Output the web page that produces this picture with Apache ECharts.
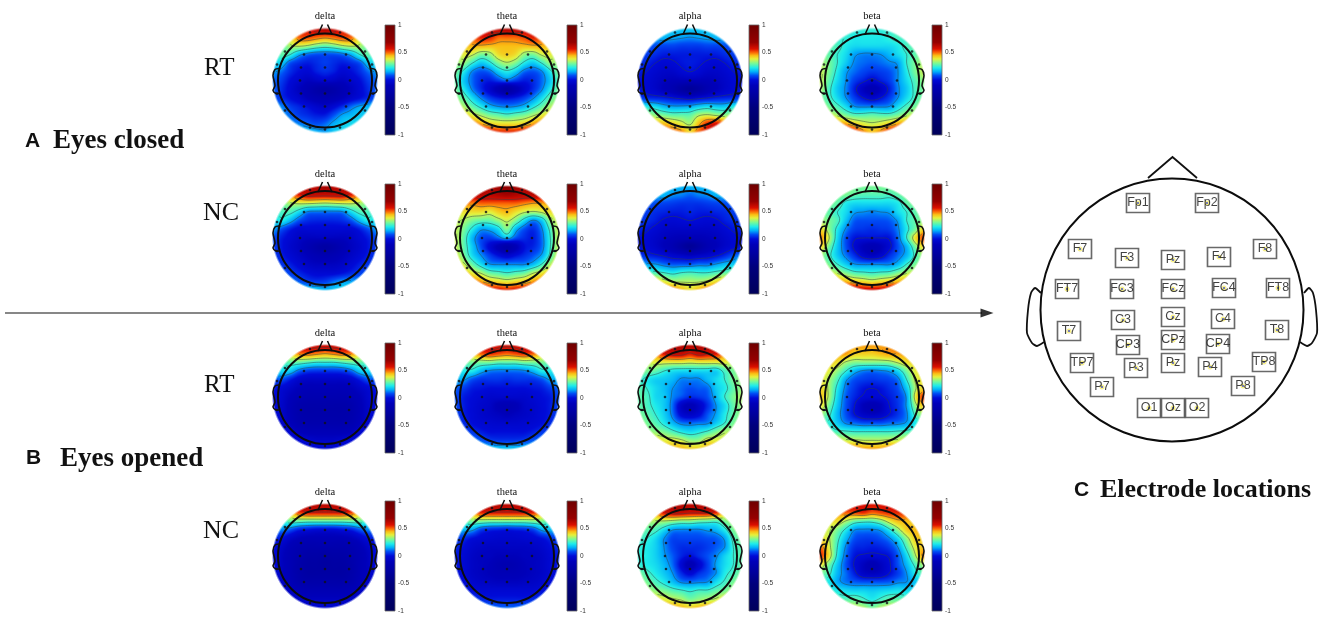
<!DOCTYPE html>
<html><head><meta charset="utf-8">
<style>html,body{margin:0;padding:0;background:#fff}#c{width:1325px;height:630px}</style>
<script src="https://cdn.jsdelivr.net/npm/echarts@6/dist/echarts.min.js"></script>
</head><body><div id="c"></div>
<script>
// Topographic values: 13 x 13 node grids (hundredths, top row first).
const closedRTdelta=[
[50,50,50,50,55,60,65,60,55,50,50,50,50],[30,35,40,50,52,50,48,50,52,50,40,35,30],[25,28,34,36,34,30,28,30,34,36,34,28,25],
[22,28,24,15,10,8,8,8,10,15,24,28,22],[20,18,8,4,2,4,6,4,2,4,8,18,20],[14,10,4,0,-2,2,4,2,-2,0,4,10,14],[10,6,0,-4,-8,-6,-4,-6,-8,-4,0,6,10],
[10,4,-2,-8,-14,-20,-24,-20,-14,-8,-2,4,10],[10,4,0,-4,-10,-14,-16,-14,-10,-4,0,4,10],[14,12,6,3,0,-4,-6,-2,4,10,14,16,16],
[16,14,10,6,4,2,2,8,14,16,18,18,18],[18,18,14,12,10,8,10,15,18,20,20,20,20],[20,20,20,20,18,16,14,18,20,20,20,20,20]];
const closedRTtheta=[
[55,55,55,55,60,62,65,62,60,55,55,55,55],[40,45,50,55,55,50,50,50,52,55,50,45,40],[38,42,45,45,44,44,44,44,44,45,45,42,38],
[34,38,36,30,32,40,42,40,32,30,36,38,34],[32,32,24,18,22,30,34,30,22,18,24,32,32],[30,22,12,8,10,18,22,18,10,8,12,22,30],[28,18,10,4,2,6,10,6,2,4,10,18,28],
[30,22,12,4,-4,-14,-24,-14,-4,4,12,22,30],[32,28,20,12,6,2,0,2,6,12,20,28,32],[36,34,28,22,16,13,12,13,16,22,28,34,36],
[42,42,38,34,30,28,26,28,30,34,38,42,42],[50,50,50,46,42,40,40,40,42,46,50,50,50],[60,60,60,60,58,55,55,55,58,60,60,60,60]];
const closedRTalpha=[
[18,18,18,18,18,18,18,18,18,18,18,18,18],[16,16,16,16,15,14,13,14,15,16,16,16,16],[12,10,8,7,7,6,6,6,7,7,8,10,12],
[8,6,4,2,2,2,2,2,2,2,4,6,8],[5,3,0,-2,-1,1,2,1,-1,-2,0,3,5],[2,0,-3,-5,-5,-2,0,-2,-5,-5,-3,0,2],[0,-2,-5,-8,-10,-10,-10,-10,-10,-8,-5,-2,0],
[1,-2,-5,-10,-15,-24,-30,-24,-15,-10,-5,-2,1],[8,4,3,2,0,-2,-4,-2,0,2,3,4,8],[22,22,20,16,14,14,15,18,20,18,18,22,22],
[34,34,32,30,28,28,28,34,36,34,32,34,34],[44,44,44,44,42,38,34,44,54,56,50,44,44],[50,50,50,50,50,48,42,50,55,55,50,50,50]];
const closedRTbeta=[
[24,24,24,24,24,24,24,24,24,24,24,24,24],[24,24,24,24,22,22,22,22,24,26,24,24,24],[27,27,26,22,20,20,20,20,20,22,26,27,27],
[30,28,24,20,14,12,12,13,16,20,24,28,30],[34,30,24,18,12,10,9,10,12,14,24,30,34],[36,30,22,14,10,7,5,6,8,13,22,30,36],[36,28,20,13,6,2,-2,2,6,13,20,27,32],
[34,26,18,12,2,-8,-14,-8,2,12,18,26,30],[30,26,20,13,6,0,-4,0,6,13,20,26,30],[34,30,26,20,13,12,12,12,13,20,26,30,34],
[42,38,34,30,27,27,28,27,27,30,34,38,42],[54,54,48,46,42,38,36,38,42,46,48,54,54],[56,58,58,58,55,48,44,48,55,58,58,58,56]];
const closedNCdelta=[
[60,60,60,60,60,62,65,62,60,60,60,60,60],[38,42,48,55,60,60,60,60,60,55,48,42,38],[26,30,34,36,36,35,34,35,36,36,34,30,26],
[22,26,26,20,12,11,11,11,12,20,26,26,22],[20,22,16,8,4,3,3,3,4,8,16,22,20],[14,8,2,-2,-2,-2,-2,-2,-2,-2,2,8,14],[8,2,-2,-6,-8,-8,-8,-8,-8,-6,-2,2,8],
[6,1,-4,-8,-14,-20,-24,-20,-14,-8,-4,1,6],[6,2,-2,-6,-10,-14,-16,-14,-10,-6,-2,2,6],[8,5,2,-2,-6,-8,-8,-8,-6,-2,2,5,8],
[12,10,6,3,0,-2,-2,-2,0,3,6,10,12],[18,16,13,9,6,5,6,10,13,14,14,16,18],[22,22,20,18,18,18,16,18,20,20,20,22,22]];
const closedNCtheta=[
[60,60,60,60,62,66,70,66,62,60,60,60,60],[55,58,60,62,62,64,66,64,62,62,60,58,55],[45,48,48,50,50,50,50,50,48,46,46,46,45],
[38,40,40,40,38,42,44,40,36,34,36,40,38],[36,34,30,28,28,32,36,30,20,12,18,32,36],[36,30,22,14,15,20,30,16,8,4,12,26,36],[36,28,16,8,6,10,16,8,4,2,10,24,36],
[36,28,18,8,-2,-12,-20,-12,0,3,10,24,36],[38,30,20,13,6,0,-4,0,4,8,14,26,38],[42,36,28,20,13,12,12,12,12,16,24,34,42],
[46,44,38,34,28,26,24,26,28,34,38,44,46],[58,56,50,46,42,40,38,40,42,46,50,56,58],[62,62,60,58,56,56,54,56,56,58,60,62,62]];
const closedNCalpha=[
[16,16,16,16,16,16,16,16,16,16,16,16,16],[16,16,16,16,13,12,10,12,13,16,16,16,16],[12,10,8,7,6,5,5,5,6,7,8,10,12],
[8,6,4,3,2,2,3,2,2,3,4,6,8],[6,4,2,-1,-2,-1,0,-1,-2,-1,2,4,6],[3,1,-2,-5,-6,-6,-6,-6,-6,-5,-2,1,3],[0,-2,-5,-8,-10,-12,-12,-12,-10,-8,-5,-2,0],
[1,-2,-5,-10,-15,-24,-32,-24,-15,-10,-5,-2,1],[6,3,1,-1,-4,-6,-8,-6,-4,-1,3,8,12],[18,14,13,10,8,8,8,10,10,13,16,18,20],
[28,27,26,24,22,24,25,24,24,26,28,30,30],[44,44,42,38,34,34,34,34,36,40,44,44,44],[52,52,54,52,50,44,40,44,50,54,54,52,52]];
const closedNCbeta=[
[30,30,30,30,30,30,30,30,30,30,30,30,30],[30,30,30,30,28,27,27,27,26,28,30,30,30],[30,30,28,22,20,20,20,20,20,22,28,30,30],
[30,28,24,20,14,13,12,13,14,20,24,28,30],[34,30,26,17,9,8,8,8,9,14,24,28,32],[42,32,22,12,6,5,4,5,6,12,22,30,42],[48,36,20,8,1,0,0,0,1,10,24,40,52],
[42,30,18,8,-2,-10,-14,-10,-2,8,16,30,42],[34,26,18,11,4,-4,-8,-4,4,10,16,26,34],[34,30,24,18,13,12,12,12,12,16,24,30,34],
[44,38,34,30,26,25,24,25,26,30,34,38,44],[52,50,46,44,42,40,38,40,42,44,46,50,52],[60,60,60,60,60,58,58,58,60,60,60,60,60]];
const openRTdelta=[
[60,60,60,60,60,60,60,60,60,60,60,60,60],[36,38,42,48,50,48,46,48,50,48,42,38,36],[24,26,28,28,26,24,24,24,26,28,28,26,24],
[16,20,18,10,6,5,5,5,6,10,18,20,16],[8,8,2,-4,-6,-6,-6,-6,-6,-4,2,8,8],[2,-2,-6,-10,-12,-12,-12,-12,-12,-10,-6,-2,2],[0,-4,-10,-14,-16,-16,-16,-16,-16,-14,-10,-4,0],
[0,-5,-12,-18,-20,-20,-20,-20,-20,-18,-12,-5,0],[0,-5,-12,-18,-20,-20,-20,-20,-20,-18,-12,-5,0],[0,-4,-10,-16,-18,-18,-18,-18,-18,-16,-10,-4,0],
[2,0,-4,-10,-12,-12,-12,-12,-12,-10,-4,0,2],[4,2,0,-2,-4,-6,-6,-6,-4,-2,0,2,4],[6,6,4,2,0,-2,-2,-2,0,2,4,6,6]];
const openRTtheta=[
[58,58,58,58,58,58,58,58,58,58,58,58,58],[38,40,44,50,54,52,50,52,54,50,44,40,38],[26,28,30,30,30,28,28,28,30,30,30,28,26],
[20,22,22,16,12,11,11,11,12,16,22,22,20],[16,14,8,5,5,5,4,5,5,5,8,14,16],[10,6,2,1,0,0,0,0,0,1,2,6,10],[8,2,0,-2,-4,-4,-4,-4,-4,-2,0,2,8],
[8,2,-1,-4,-6,-12,-14,-12,-6,-4,-1,2,8],[8,2,-1,-4,-6,-8,-10,-8,-6,-4,-1,2,8],[10,4,0,-2,-3,-4,-4,-4,-3,-2,0,4,10],
[14,9,5,2,0,0,0,0,0,2,5,9,14],[20,18,13,9,6,5,5,5,6,9,13,18,20],[24,24,22,20,18,18,18,18,18,20,22,24,24]];
const openRTalpha=[
[62,62,62,62,62,62,62,62,62,62,62,62,62],[40,42,48,56,60,60,56,60,58,56,48,42,40],[34,36,38,38,38,38,37,38,38,38,38,36,34],
[32,30,28,24,21,20,20,20,20,19,26,30,32],[26,22,19,18,16,12,12,12,16,20,24,30,32],[28,24,20,17,13,10,8,9,10,18,22,28,32],[28,26,20,18,12,8,4,5,8,16,24,30,34],
[28,26,22,18,10,-6,-12,-6,4,13,20,28,32],[30,28,24,19,11,-2,-6,-2,8,14,22,28,32],[32,30,27,22,16,11,10,11,12,18,24,30,32],
[34,33,32,30,26,22,20,22,25,30,34,34,34],[40,40,40,38,38,36,32,32,38,38,38,40,40],[44,44,44,44,44,44,42,42,44,44,44,44,44]];
const openRTbeta=[
[46,46,46,46,46,46,46,46,46,46,46,46,46],[46,46,46,46,42,42,42,44,46,46,46,46,46],[42,42,40,34,31,31,31,31,32,36,40,42,42],
[40,38,32,24,16,12,11,12,14,20,30,38,40],[40,34,26,14,8,6,5,6,7,11,24,36,40],[42,34,22,11,5,1,0,1,4,8,18,34,42],[44,34,20,9,3,-1,-2,-1,2,6,14,38,54],
[40,30,18,8,0,-10,-14,-10,0,5,14,32,44],[34,26,16,8,0,-6,-8,-6,0,5,12,26,34],[28,24,18,12,10,8,8,8,10,11,14,22,28],
[30,28,26,25,24,24,24,24,24,25,26,28,30],[42,40,38,36,36,35,35,35,36,36,38,40,42],[48,48,48,48,48,46,46,46,48,48,48,48,48]];
const openNCdelta=[
[62,62,62,62,62,62,62,62,62,62,62,62,62],[34,38,44,52,56,56,56,56,56,52,44,38,34],[20,24,28,28,27,27,27,27,27,28,28,24,20],
[10,12,8,2,0,-2,-2,-2,0,2,8,12,10],[4,0,-6,-10,-12,-12,-12,-12,-12,-10,-6,0,4],[0,-6,-12,-16,-18,-18,-18,-18,-18,-16,-12,-6,0],[0,-8,-14,-18,-22,-22,-24,-22,-22,-18,-14,-8,0],
[0,-8,-14,-20,-24,-24,-26,-24,-24,-20,-14,-8,0],[0,-8,-14,-20,-24,-24,-24,-24,-24,-20,-14,-8,0],[0,-6,-12,-18,-20,-20,-20,-20,-20,-18,-12,-6,0],
[1,-2,-8,-12,-14,-14,-14,-14,-14,-12,-8,-2,1],[2,1,-2,-6,-8,-8,-8,-8,-8,-6,-2,1,2],[4,4,2,0,-2,-2,-2,-2,-2,0,2,4,4]];
const openNCtheta=[
[62,62,62,62,62,62,62,62,62,62,62,62,62],[36,40,46,54,56,56,56,56,56,54,46,40,36],[22,26,30,30,29,29,29,29,29,30,30,26,22],
[14,16,14,6,3,2,1,2,3,6,14,16,14],[8,4,0,-2,-3,-4,-4,-4,-3,-2,0,4,8],[4,0,-4,-6,-7,-7,-7,-7,-7,-6,-4,0,4],[2,-2,-6,-8,-8,-10,-10,-10,-8,-8,-6,-2,2],
[2,-2,-6,-8,-10,-14,-16,-14,-10,-8,-6,-2,2],[2,-2,-6,-8,-10,-12,-12,-12,-10,-8,-6,-2,2],[3,0,-4,-6,-7,-8,-8,-8,-7,-6,-4,0,3],
[6,4,0,-2,-2,-2,-2,-2,-2,-2,0,4,6],[12,10,7,4,2,2,2,2,2,4,7,10,12],[18,18,16,14,12,10,10,10,12,14,16,18,18]];
const openNCalpha=[
[62,62,62,62,62,62,62,62,62,62,62,62,62],[40,42,48,56,60,60,58,58,58,54,44,40,40],[36,34,34,34,32,30,30,28,27,26,30,34,36],
[30,28,26,20,13,12,12,12,14,16,22,30,32],[26,24,20,13,7,7,7,7,8,9,14,26,30],[24,22,19,13,7,4,4,4,6,9,13,24,28],[24,22,19,14,9,3,0,4,8,12,19,24,28],
[24,22,20,16,10,-2,-14,-4,6,14,20,24,28],[30,26,22,18,13,4,-2,4,8,13,22,26,30],[32,30,26,22,17,12,11,12,13,20,25,30,32],
[36,34,32,30,27,25,23,25,25,28,30,34,36],[42,40,40,38,36,34,30,32,34,36,40,40,42],[48,48,48,46,46,44,42,44,46,46,48,48,48]];
const openNCbeta=[
[56,56,56,56,56,56,56,56,56,56,56,56,56],[44,46,48,50,52,54,50,52,54,54,52,50,46],[40,40,40,34,28,26,26,30,38,44,44,42,42],
[38,36,30,22,13,12,12,14,22,32,42,44,44],[40,36,26,16,8,6,6,8,12,20,32,42,42],[50,38,24,12,4,3,2,3,6,13,26,38,44],[54,40,22,10,1,-1,-2,-1,1,9,20,34,48],
[40,30,18,8,-1,-8,-14,-8,-1,8,16,26,34],[30,26,16,10,2,-6,-8,-6,0,6,13,22,28],[26,22,15,11,9,8,8,8,9,12,13,18,24],
[28,26,22,20,19,19,18,19,20,21,20,22,26],[32,30,28,27,28,25,22,25,28,28,28,30,32],[38,36,36,36,36,34,30,34,36,36,36,36,38]];

const bands=['delta','theta','alpha','beta'];
const rowMaps=[[closedRTdelta,closedRTtheta,closedRTalpha,closedRTbeta],[closedNCdelta,closedNCtheta,closedNCalpha,closedNCbeta],
               [openRTdelta,openRTtheta,openRTalpha,openRTbeta],[openNCdelta,openNCtheta,openNCalpha,openNCbeta]];
const scaleTicks=[-1,-0.5,0,0.5,1];
const contourLevels=[0.13,0.24,0.35,0.46,0.57];
const innerContourLevel=0;
const innerContourMaps=[closedRTalpha,closedNCalpha,closedRTbeta,closedNCbeta,openRTbeta,openNCbeta];
// colour scale
const scaleValues=[-1,-0.5,-0.1,0,0.08,0.15,0.22,0.3,0.38,0.44,0.5,0.56,0.68,1];
const scaleRGB=[[0,0,90],[0,0,125],[0,0,185],[0,10,215],[0,75,245],[0,175,250],[30,235,235],[120,250,150],[230,240,60],[250,190,20],[250,95,5],[220,15,0],[150,0,0],[110,0,0]];
// electrode dots on each small map (pixel offsets from head centre at 52 px = 1 unit)
const dotX=[-21,0,21,-24,0,24,-25,0,25,-24,0,24,-21,0,21,-40,40,-48,47,-48,48,-40,40,-15,0,15,-15,15];
const dotY=[-26,-26,-26,-13,-13,-13,0,0,0,13,13,13,26,26,26,-29,-29,-16,-16,13,13,30,30,47,49,47,-48,-48];
// head outline on small maps, same units
const headR=47;
const noseL=[[-7,-46],[-2.5,-56]],noseR=[[2.5,-56],[7,-46]];
const earL=[[-46,-12],[-50,-11],[-52,-5],[-50,5],[-52,10],[-49,13],[-46,13]];
const earR=[[46,-12],[50,-11],[52,-5],[50,5],[52,10],[49,13],[46,13]];
// electrode montage
const elecNames=['Fp1','Fp2','F7','F3','Pz','F4','F8','FT7','FC3','FCz','FC4','FT8','C3','Cz','C4','T7','T8','CP3','CPz','CP4','TP7','Pz','P3','P4','TP8','P7','P8','O1','Oz','O2'];
const elecX=[1138,1207,1080,1127,1173,1219,1265,1067,1122,1173,1224,1278,1123,1173,1223,1069,1277,1128,1173,1218,1082,1173,1136,1210,1264,1102,1243,1149,1173,1197];
const elecY=[203,203,249,258,260,257,249,289,289,289,288,288,320,317,319,331,330,345,340,344,363,363,368,367,362,387,386,408,408,408];
const bigNose=[[1148,178],[1172.5,157],[1197,178]];
const bigEarL=[[1041,293],[1035,288],[1031,293],[1028,310],[1027,333],[1032,343],[1037,346],[1044,342]];
const bigEarR=[[1304,293],[1309,288],[1313,293],[1316,310],[1317,333],[1312,343],[1307,346],[1300,342]];
const bigHead={x:1172,y:310,r:131.5};
const arrowLine=[[5,313],[982,313]];
// layout
const centerX=[325,507,690,872];
const centerY=[80.5,238,397,556];
const barX=[385,567,749,932];
const barTop=[25,184,343,501];
const barH=110,barW=10;

function scaleColor(v){
  let i=0;const n=scaleValues.length;
  if(v<=scaleValues[0])return scaleRGB[0];
  if(v>=scaleValues[n-1])return scaleRGB[n-1];
  while(v>scaleValues[i+1])i++;
  const t=(v-scaleValues[i])/(scaleValues[i+1]-scaleValues[i]),a=scaleRGB[i],b=scaleRGB[i+1];
  return [a[0]+(b[0]-a[0])*t,a[1]+(b[1]-a[1])*t,a[2]+(b[2]-a[2])*t];
}
function cub(a,b,c,d,t){return b+0.5*t*(c-a+t*(2*a-5*b+4*c-d+t*(3*(b-c)+d-a)));}
function field(g,u,v){ // u,v in node units; smooth display shading of the read grid
  const cl=(x)=>Math.max(0,Math.min(12,x));
  const i=Math.min(11,Math.floor(cl(v))),j=Math.min(11,Math.floor(cl(u)));
  const tx=cl(u)-j,ty=cl(v)-i,r=[];
  for(let k=-1;k<=2;k++){
    const row=g[cl(i+k)];
    r.push(cub(row[cl(j-1)],row[j],row[j+1],row[cl(j+2)],tx));
  }
  return cub(r[0],r[1],r[2],r[3],ty)/100;
}
function shade(g){
  const S=112,cv=document.createElement('canvas');cv.width=S;cv.height=S;
  const ctx=cv.getContext('2d'),im=ctx.createImageData(S,S);
  for(let y=0;y<S;y++)for(let x=0;x<S;x++){
    const ux=(x+0.5-S/2)/52,uy=(y+0.5-S/2)/52,r=Math.hypot(ux,uy),p=(y*S+x)*4;
    const a=r<0.98?1:r>1.02?0:(1.02-r)/0.04;
    const c=scaleColor(field(g,(ux+1)*6,(uy+1)*6));
    im.data[p]=c[0];im.data[p+1]=c[1];im.data[p+2]=c[2];im.data[p+3]=a*255;
  }
  ctx.putImageData(im,0,0);return cv;
}
function contours(g){
  const segs=[],N=48,f=[];
  for(let i=0;i<=N;i++){f.push([]);for(let j=0;j<=N;j++)f[i].push(field(g,j/4,i/4));}
  const levels=innerContourMaps.includes(g)?[innerContourLevel].concat(contourLevels):contourLevels;
  levels.forEach(L=>{
    for(let i=0;i<N;i++)for(let j=0;j<N;j++){
      const a=f[i][j],b=f[i][j+1],c=f[i+1][j+1],d=f[i+1][j],pts=[];
      if((a<L)!==(b<L))pts.push([j+(L-a)/(b-a),i]);
      if((b<L)!==(c<L))pts.push([j+1,i+(L-b)/(c-b)]);
      if((d<L)!==(c<L))pts.push([j+(L-d)/(c-d),i+1]);
      if((a<L)!==(d<L))pts.push([j,i+(L-a)/(d-a)]);
      for(let k=0;k+1<pts.length;k+=2){
        const p=pts[k],q=pts[k+1];
        const px=p[0]/24-1,py=p[1]/24-1,qx=q[0]/24-1,qy=q[1]/24-1;
        if(Math.hypot(px,py)<=0.97&&Math.hypot(qx,qy)<=0.97)segs.push([px,-py,qx,-qy]);
      }
    }
  });
  return segs;
}
const u=(p)=>[p[0]/52,-p[1]/52];
function topoRender(g){
  const img=shade(g),segs=contours(g);
  return function(params,api){
    if(params.dataIndex!==0)return null;
    const tl=api.coord([-56/52,56/52]),br=api.coord([56/52,-56/52]);
    const c=api.coord([0,0]),rpx=(api.coord([headR/52,0])[0]-c[0]);
    const kids=[{type:'image',silent:true,style:{image:img,x:tl[0],y:tl[1],width:br[0]-tl[0],height:br[1]-tl[1]}}];
    segs.forEach(s=>{
      const a=api.coord([s[0],s[1]]),b=api.coord([s[2],s[3]]);
      kids.push({type:'line',silent:true,shape:{x1:a[0],y1:a[1],x2:b[0],y2:b[1]},style:{stroke:'rgba(45,70,70,0.55)',lineWidth:0.9}});
    });
    kids.push({type:'circle',silent:true,shape:{cx:c[0],cy:c[1],r:rpx},style:{fill:'none',stroke:'#0c0c0c',lineWidth:2}});
    [noseL,noseR].forEach(n=>kids.push({type:'polyline',silent:true,shape:{points:n.map(p=>api.coord(u(p)))},style:{fill:'none',stroke:'#0c0c0c',lineWidth:1.5}}));
    [earL,earR].forEach(n=>kids.push({type:'polyline',silent:true,shape:{points:n.map(p=>api.coord(u(p))),smooth:0.25},style:{fill:'none',stroke:'#111',lineWidth:1.6}}));
    return {type:'group',children:kids};
  };
}
const barStops=scaleValues.map((v,i)=>({offset:(1-v)/2,color:'rgb('+scaleRGB[i].join(',')+')'})).reverse();

const grids=[],xAxes=[],yAxes=[],series=[],graphic=[];
function addGrid(g,x,y){grids.push(g);xAxes.push(Object.assign({gridIndex:grids.length-1},x));yAxes.push(Object.assign({gridIndex:grids.length-1},y));return grids.length-1;}

rowMaps.forEach((maps,r)=>maps.forEach((g,c)=>{
  const cx=centerX[c],cy=centerY[r],H=65,ext=H/52;
  const gi=addGrid({left:cx-H,top:cy-H,width:2*H,height:2*H},
    {type:'value',show:false,min:-ext,max:ext},{type:'value',show:false,min:-ext,max:ext});
  const cells=[];
  g.forEach((row,i)=>row.forEach((v,j)=>cells.push([j/6-1,1-i/6,v/100])));
  series.push({name:bands[c]+' map '+r,type:'custom',xAxisIndex:gi,yAxisIndex:gi,coordinateSystem:'cartesian2d',z:2,silent:true,animation:false,clip:false,
    data:cells,encode:{x:0,y:1},renderItem:topoRender(g)});
  series.push({name:bands[c]+' electrodes '+r,type:'scatter',xAxisIndex:gi,yAxisIndex:gi,z:3,silent:true,animation:false,symbolSize:2.6,
    itemStyle:{color:'#101018'},data:dotX.map((x,i)=>[x/52,-dotY[i]/52])});
  const bi=addGrid({left:barX[c],top:barTop[r],width:barW,height:barH},
    {type:'value',show:false,min:0,max:1},
    {type:'value',min:-1,max:1,interval:0.5,position:'right',axisLine:{show:false},axisTick:{show:false},splitLine:{show:false},
     axisLabel:{show:true,margin:3,fontSize:6.5,color:'#333',fontFamily:'Liberation Sans',formatter:(v)=>scaleTicks.includes(v)?String(v):''}});
  series.push({name:'colour bar',type:'custom',xAxisIndex:bi,yAxisIndex:bi,coordinateSystem:'cartesian2d',silent:true,animation:false,z:2,
    data:[[0,-1,1,1]],encode:{x:0,y:1},renderItem:(p,api)=>{
      const a=api.coord([0,1]),b=api.coord([1,-1]);
      return {type:'rect',shape:{x:a[0],y:a[1],width:b[0]-a[0],height:b[1]-a[1]},
        style:{fill:new echarts.graphic.LinearGradient(0,0,0,1,barStops),stroke:'#666',lineWidth:0.8}};
    }});
  graphic.push({type:'text',silent:true,style:{text:bands[c],x:cx,y:cy-64,align:'center',verticalAlign:'middle',font:'10.5px "Liberation Serif"',fill:'#111'}});
}));

// page-wide grid in pixel-like units for arrow and montage
const pg=addGrid({left:0,top:0,width:1325,height:630},{type:'value',show:false,min:0,max:1325},{type:'value',show:false,min:0,max:630,inverse:true});
const common={xAxisIndex:pg,yAxisIndex:pg,silent:true,animation:false};
series.push(Object.assign({name:'arrow',type:'line',symbol:'none',lineStyle:{color:'#111',width:1.2},data:arrowLine,z:2},common));
series.push(Object.assign({name:'arrow head',type:'scatter',symbol:'triangle',symbolSize:[9,13],symbolRotate:-90,itemStyle:{color:'#000'},data:[[987,313]],z:2},common));
series.push(Object.assign({name:'head',type:'custom',coordinateSystem:'cartesian2d',z:2,data:[[bigHead.x,bigHead.y]],encode:{x:0,y:1},clip:false,
  renderItem:(p,api)=>{
    const c=api.coord([bigHead.x,bigHead.y]);
    const line=(pts,sm)=>({type:'polyline',shape:{points:pts.map(q=>api.coord(q)),smooth:sm||0},style:{fill:'none',stroke:'#111',lineWidth:1.8}});
    return {type:'group',children:[
      line(bigEarL,0.2),line(bigEarR,0.2),line(bigNose),
      {type:'circle',shape:{cx:c[0],cy:c[1],r:bigHead.r},style:{fill:'#fff',stroke:'#0c0c0c',lineWidth:2}}]};
  }},common));
const elecData=elecX.map((x,i)=>[x,elecY[i]]);
series.push(Object.assign({name:'electrode boxes',type:'scatter',symbol:'rect',symbolSize:[23,19],z:3,itemStyle:{color:'#fff',borderColor:'#444',borderWidth:1.5},data:elecData},common));
series.push(Object.assign({name:'electrode halo',type:'scatter',symbolSize:5,z:4,itemStyle:{color:'#f6ee70'},data:elecData},common));
series.push(Object.assign({name:'electrode dot',type:'scatter',symbolSize:2,z:5,itemStyle:{color:'#2030d0'},data:elecData},common));
series.push(Object.assign({name:'electrode labels',type:'scatter',symbolSize:1,z:6,itemStyle:{color:'transparent'},
  label:{show:true,position:'inside',color:'#111',fontSize:12.5,fontFamily:'Liberation Sans',formatter:(p)=>elecNames[p.dataIndex]},data:elecData},common));

const serif='"Liberation Serif"',sans='"Liberation Sans"';
[['RT',204,68,'25px '+serif],['NC',203,213,'26px '+serif],['RT',204,385,'25px '+serif],['NC',203,531,'26px '+serif],
 ['A',25,141,'bold 21px '+sans],['Eyes closed',53,141,'bold 27px '+serif],
 ['B',26,458,'bold 21px '+sans],['Eyes opened',60,459,'bold 27px '+serif],
 ['C',1074,490,'bold 21px '+sans],['Electrode locations',1100,490,'bold 26px '+serif]
].forEach(t=>graphic.push({type:'text',silent:true,style:{text:t[0],x:t[1],y:t[2],verticalAlign:'middle',font:t[3],fill:'#111'}}));

const chart=echarts.init(document.getElementById('c'),null,{renderer:'canvas',width:1325,height:630});
chart.setOption({backgroundColor:'#fff',animation:false,tooltip:{show:false},grid:grids,xAxis:xAxes,yAxis:yAxes,series:series,graphic:graphic});
</script></body></html>
